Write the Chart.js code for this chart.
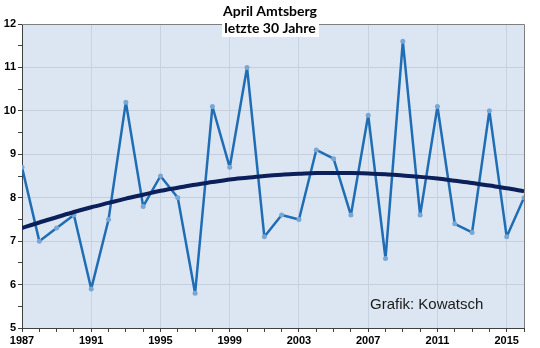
<!DOCTYPE html>
<html>
<head>
<meta charset="utf-8">
<script src="https://cdn.jsdelivr.net/npm/chart.js@4"></script>
<style>
    html, body { margin: 0; padding: 0; background: #fff; }
    #wrap { position: relative; width: 540px; height: 348px; }
</style>
</head>
<body>
<div id="wrap"><canvas id="chart"></canvas></div>
<script>
const YEARS = [1987, 1988, 1989, 1990, 1991, 1992, 1993, 1994, 1995, 1996,
    1997, 1998, 1999, 2000, 2001, 2002, 2003, 2004, 2005, 2006,
    2007, 2008, 2009, 2010, 2011, 2012, 2013, 2014, 2015, 2016];
const APRIL_TEMP = [8.7, 7.0, 7.3, 7.6, 5.9, 7.5, 10.2, 7.8, 8.5, 8.0,
    5.8, 10.1, 8.7, 11.0, 7.1, 7.6, 7.5, 9.1, 8.9, 7.6,
    9.9, 6.6, 11.6, 7.6, 10.1, 7.4, 7.2, 10.0, 7.1, 8.0];
// trend curve
const TREND = [7.30, 7.43, 7.55, 7.67, 7.78, 7.88, 7.98, 8.07, 8.16, 8.23,
    8.30, 8.36, 8.42, 8.46, 8.50, 8.53, 8.55, 8.57, 8.57, 8.57,
    8.56, 8.54, 8.51, 8.48, 8.44, 8.39, 8.34, 8.28, 8.22, 8.15];
const TITLE_LINES = ['April Amtsberg', 'letzte 30 Jahre'];
const CREDIT = 'Grafik: Kowatsch';

const tickFont = { family: 'Liberation Sans, Arial, sans-serif', size: 11, weight: 'bold' };

const plotDecor = {
    id: 'plotDecor',
    beforeDraw(chart) {
        const { ctx, chartArea: a } = chart;
        ctx.save();
        ctx.fillStyle = '#dce6f2';
        ctx.fillRect(a.left, a.top, a.right - a.left, a.bottom - a.top);
        ctx.restore();
    },
    afterDraw(chart) {
        const { ctx, chartArea: a } = chart;
        ctx.save();
        ctx.strokeStyle = '#7f7f7f';
        ctx.lineWidth = 1;
        ctx.beginPath();
        ctx.moveTo(a.left, a.top + 0.5);
        ctx.lineTo(a.right + 0.5, a.top + 0.5);
        ctx.lineTo(a.right + 0.5, a.bottom);
        ctx.stroke();

        // title box
        ctx.fillStyle = '#fff';
        ctx.fillRect(222, 0, 97, 37);
        ctx.fillStyle = '#000';
        ctx.font = 'bold 14px Lato, "Open Sans", sans-serif';
        ctx.textAlign = 'center';
        ctx.textBaseline = 'middle';
        ctx.fillText(TITLE_LINES[0], 270, 11);
        ctx.fillText(TITLE_LINES[1], 270, 28);

        ctx.font = '15px "Liberation Sans", Arial, sans-serif';
        ctx.fillStyle = '#1a1a1a';
        ctx.textAlign = 'left';
        ctx.fillText(CREDIT, 370, 305);
        ctx.restore();
    }
};

const ctx = document.getElementById('chart').getContext('2d');
new Chart(ctx, {
    type: 'line',
    data: {
        datasets: [{
            label: 'April',
            data: YEARS.map((y, i) => ({ x: y, y: APRIL_TEMP[i] })),
            borderColor: '#1f6db5',
            borderWidth: 2.5,
            borderJoinStyle: 'round',
            pointRadius: 2.5,
            pointBackgroundColor: '#79a7d3',
            pointBorderColor: '#79a7d3',
            pointBorderWidth: 0,
            tension: 0,
            order: 2
        }, {
            label: 'Trend',
            data: YEARS.map((y, i) => ({ x: y, y: TREND[i] })),
            borderColor: '#0b1f5a',
            borderWidth: 4,
            borderJoinStyle: 'round',
            pointRadius: 0,
            cubicInterpolationMode: 'monotone',
            order: 1
        }]
    },
    options: {
        responsive: true,
        maintainAspectRatio: false,
        animation: false,
        layout: { padding: { top: 24, right: 16, left: 0, bottom: 0 } },
        plugins: {
            legend: { display: false },
            tooltip: { enabled: false }
        },
        scales: {
            x: {
                type: 'linear',
                min: 1987,
                max: 2016,
                afterFit(scale) { scale.height = 20; },
                ticks: {
                    stepSize: 1,
                    autoSkip: false,
                    maxRotation: 0,
                    padding: 2,
                    color: '#000',
                    font: tickFont,
                    callback: (v) => ((v - 1987) % 4 === 0 ? String(v) : '')
                },
                grid: {
                    drawTicks: true,
                    tickLength: 4,
                    color: (c) => (c.tick && (c.tick.value - 1987) % 4 === 0 && c.tick.value !== 1987 ? '#c6d3e3' : 'rgba(0,0,0,0)'),
                    tickColor: '#404040'
                },
                border: { color: '#404040', width: 1 }
            },
            y: {
                min: 5,
                max: 12,
                afterFit(scale) { scale.width = 22; },
                ticks: {
                    stepSize: 0.5,
                    padding: 2,
                    color: '#000',
                    font: tickFont,
                    callback: (v) => (Number.isInteger(v) ? String(v) : '')
                },
                grid: {
                    drawTicks: true,
                    tickLength: 4,
                    color: (c) => (c.tick && Number.isInteger(c.tick.value) && c.tick.value !== 5 ? '#c6d0dc' : 'rgba(0,0,0,0)'),
                    tickColor: '#404040'
                },
                border: { color: '#404040', width: 1 }
            }
        }
    },
    plugins: [plotDecor]
});
</script>
</body>
</html>
